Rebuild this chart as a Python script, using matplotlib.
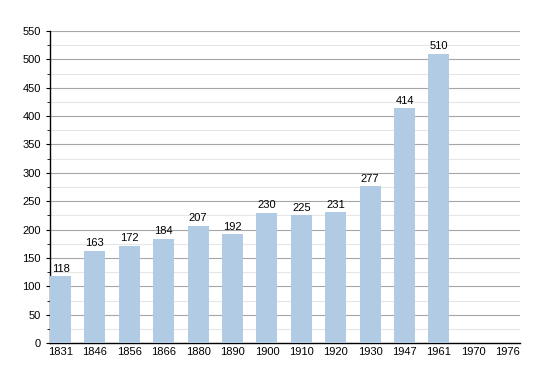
import matplotlib.pyplot as plt
import numpy as np

# Bevoelkerung je Zaehlungsjahr (1970 und 1976 ohne Wert)
jahre = ['1831', '1846', '1856', '1866', '1880', '1890', '1900', '1910',
         '1920', '1930', '1947', '1961', '1970', '1976']
einwohner = [118, 163, 172, 184, 207, 192, 230, 225, 231, 277, 414, 510]

plt.rcParams['font.family'] = ['Liberation Sans', 'DejaVu Sans']

fig = plt.figure(figsize=(5.5, 3.73), dpi=100)
ax = fig.add_axes([0.091, 0.080, 0.854, 0.837])

x = np.arange(len(jahre))
ax.bar(x[:len(einwohner)], einwohner, 0.61, color='#b1cbe5', zorder=3)
for xi, wert in zip(x, einwohner):
    ax.text(xi, wert + 4, str(wert), ha='center', va='bottom', fontsize=8, zorder=4)

ax.set_xlim(-0.305, len(jahre) - 0.65)
ax.set_ylim(0, 550)
ax.set_xticks(x)
ax.set_xticklabels(jahre, fontsize=8)
ax.set_yticks(np.arange(0, 551, 50))
ax.set_yticks(np.arange(25, 550, 50), minor=True)
ax.tick_params(axis='y', labelsize=8, length=3, width=0.8)
ax.tick_params(axis='y', which='minor', length=2, width=0.6)
ax.tick_params(axis='x', length=0, pad=3)

ax.grid(axis='y', which='major', color='#a6a6a6', linewidth=0.8, zorder=1)
ax.grid(axis='y', which='minor', color='#e6e6e6', linewidth=0.8, zorder=1)

for s in ['top', 'right']:
    ax.spines[s].set_visible(False)
ax.spines['left'].set_linewidth(1)
ax.spines['bottom'].set_linewidth(1)

plt.savefig('out.png', dpi=100)
